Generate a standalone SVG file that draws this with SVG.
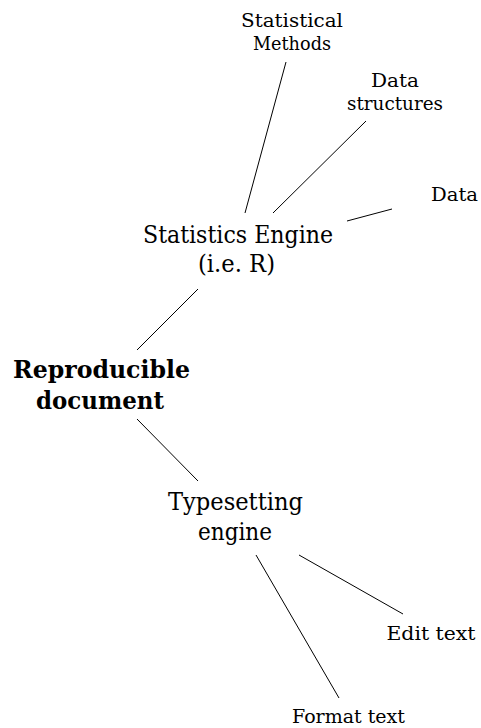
<svg xmlns="http://www.w3.org/2000/svg" width="481" height="728" viewBox="0 0 481 728">
  <style>
    text { font-family: "DejaVu Serif", "Liberation Serif", "Noto Serif", Georgia, serif; fill: #000; text-anchor: middle; }
    .small { font-size: 18px; }
    .big { font-size: 24px; }
    .root { font-size: 24px; font-weight: bold; }
    .links line { stroke: #000; stroke-width: 1; }
  </style>
  <rect width="481" height="728" fill="#fff"/>

  <!-- connectors -->
  <g class="links">
    <line x1="286" y1="62" x2="245" y2="213"/>
    <line x1="366" y1="121" x2="273" y2="213"/>
    <line x1="392" y1="209" x2="347" y2="221"/>
    <line x1="198" y1="289" x2="137" y2="350"/>
    <line x1="137" y1="419" x2="198" y2="481"/>
    <line x1="256" y1="555" x2="339" y2="698"/>
    <line x1="299" y1="555" x2="403" y2="614"/>
  </g>

  <!-- nodes -->
  <g id="root">
    <text class="root" x="101.5" y="378" textLength="177" lengthAdjust="spacingAndGlyphs">Reproducible</text>
    <text class="root" x="100" y="409" textLength="128" lengthAdjust="spacingAndGlyphs">document</text>
  </g>
  <g id="stats-engine">
    <text class="big" x="238" y="243" textLength="190" lengthAdjust="spacingAndGlyphs">Statistics Engine</text>
    <text class="big" x="236.5" y="272" textLength="77" lengthAdjust="spacingAndGlyphs">(i.e.  R)</text>
  </g>
  <g id="methods">
    <text class="small" x="292" y="27" textLength="102" lengthAdjust="spacingAndGlyphs">Statistical</text>
    <text class="small" x="292" y="50" textLength="78" lengthAdjust="spacingAndGlyphs">Methods</text>
  </g>
  <g id="structures">
    <text class="small" x="395" y="87" textLength="48" lengthAdjust="spacingAndGlyphs">Data</text>
    <text class="small" x="395" y="110" textLength="96" lengthAdjust="spacingAndGlyphs">structures</text>
  </g>
  <g id="data">
    <text class="small" x="454.5" y="201" textLength="47" lengthAdjust="spacingAndGlyphs">Data</text>
  </g>
  <g id="typesetting">
    <text class="big" x="235.5" y="510" textLength="135" lengthAdjust="spacingAndGlyphs">Typesetting</text>
    <text class="big" x="235" y="540" textLength="74" lengthAdjust="spacingAndGlyphs">engine</text>
  </g>
  <g id="edit">
    <text class="small" x="431" y="640" textLength="89" lengthAdjust="spacingAndGlyphs">Edit text</text>
  </g>
  <g id="format">
    <text class="small" x="348.5" y="723" textLength="113" lengthAdjust="spacingAndGlyphs">Format text</text>
  </g>
</svg>
